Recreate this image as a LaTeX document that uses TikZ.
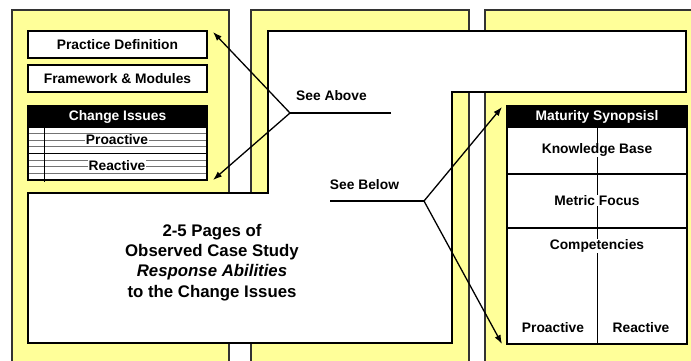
\documentclass[tikz,border=0pt]{standalone}
\usepackage{fontspec}
\setmainfont{Liberation Sans}
\usetikzlibrary{arrows.meta}
\definecolor{paneyellow}{HTML}{FFFF99}
\begin{document}
\begin{tikzpicture}[x=1pt,y=-1pt,
  panel/.style={fill=paneyellow,draw=black!80,line width=1.2pt},
  wbox/.style={fill=white,draw=black,line width=1.5pt},
  lbl/.style={font=\fontsize{13.8}{16}\selectfont\bfseries,inner sep=0.6pt},
  cell/.style={lbl,fill=white},
  hdr/.style={lbl,text=white},
  thin/.style={line width=0.8pt,draw=black!55},
  arr/.style={line width=1.3pt,-{Latex[length=9pt,width=6.5pt]}},
  conn/.style={line width=1.3pt}]
\useasboundingbox (0,0) rectangle (691,360);
\clip (0,0) rectangle (691,360);
% panels
\fill[white] (0,0) rectangle (691,360);
\draw[panel] (12,10) rectangle (229,380);
\draw[panel] (251,10) rectangle (469,380);
\draw[panel] (485,10) rectangle (720,380);
% white region
\draw[wbox] (268,31) -- (686,31) -- (686,92) -- (452,92) -- (452,343) -- (28,343) -- (28,193) -- (268,193) -- cycle;
% left boxes
\node[wbox,lbl,minimum width=179pt,minimum height=27pt] (pd) at (117.5,44.5) {Practice Definition};
\node[wbox,lbl,minimum width=179pt,minimum height=27pt] (fm) at (117.5,78.5) {Framework \& Modules};
% change issues table
\fill[white] (28,127) rectangle (207,180);
\foreach \yy in {133.6,140.2,146.8,160,166.6,173.2} \draw[thin] (28,\yy) -- (207,\yy);
\draw[line width=1.2pt] (28,153.4) -- (207,153.4);
\draw[line width=1.6pt] (44.5,127) -- (44.5,182);
\node[cell] (pro1) at (117,140) {Proactive};
\node[cell] (rea1) at (117,166) {Reactive};
\draw[line width=1.5pt] (28,127) rectangle (207,180);
\node[fill=black,draw=black,line width=1.5pt,minimum width=179pt,minimum height=21pt,hdr] (ci) at (117.5,116.5) {Change Issues};
% maturity table
\fill[white] (507,127) rectangle (687,344);
\draw[line width=1.2pt] (507,174) -- (687,174);
\draw[line width=1.2pt] (507,228) -- (687,228);
\draw[line width=0.9pt] (597,127) -- (597,344);
\node[cell] (kb) at (597,150) {Knowledge Base};
\node[cell] (mf) at (597,200.5) {Metric Focus};
\node[cell] (co) at (597,246) {Competencies};
\node[cell] (pro2) at (553,328) {Proactive};
\node[cell] (rea2) at (641,328) {Reactive};
\draw[line width=1.5pt] (507,127) rectangle (687,344);
\node[fill=black,draw=black,line width=1.5pt,minimum width=180pt,minimum height=21pt,hdr] (ms) at (597,116.5) {Maturity Synopsisl};
% case study text
\node[font=\fontsize{16.8}{20.3}\selectfont\bfseries,align=center] (cs) at (212,262.5) {2-5 Pages of\\Observed Case Study\\\textit{Response Abilities}\\to the Change Issues};
% connectors
\node[lbl] (seeabove) at (331.5,96) {See Above};
\node[lbl] (seebelow) at (364.5,185) {See Below};
\coordinate (ja) at (290,113);
\coordinate (aend) at (391,113);
\coordinate (tipa1) at (213,32);
\coordinate (tipa2) at (213,180);
\coordinate (jb) at (424,201);
\coordinate (bstart) at (330,201);
\coordinate (tipb1) at (502,107);
\coordinate (tipb2) at (502,344);
\draw[conn] (aend) -- (ja);
\draw[arr] (ja) -- (tipa1);
\draw[arr] (ja) -- (tipa2);
\draw[conn] (bstart) -- (jb);
\draw[arr] (jb) -- (tipb1);
\draw[arr] (jb) -- (tipb2);
\end{tikzpicture}
\end{document}
